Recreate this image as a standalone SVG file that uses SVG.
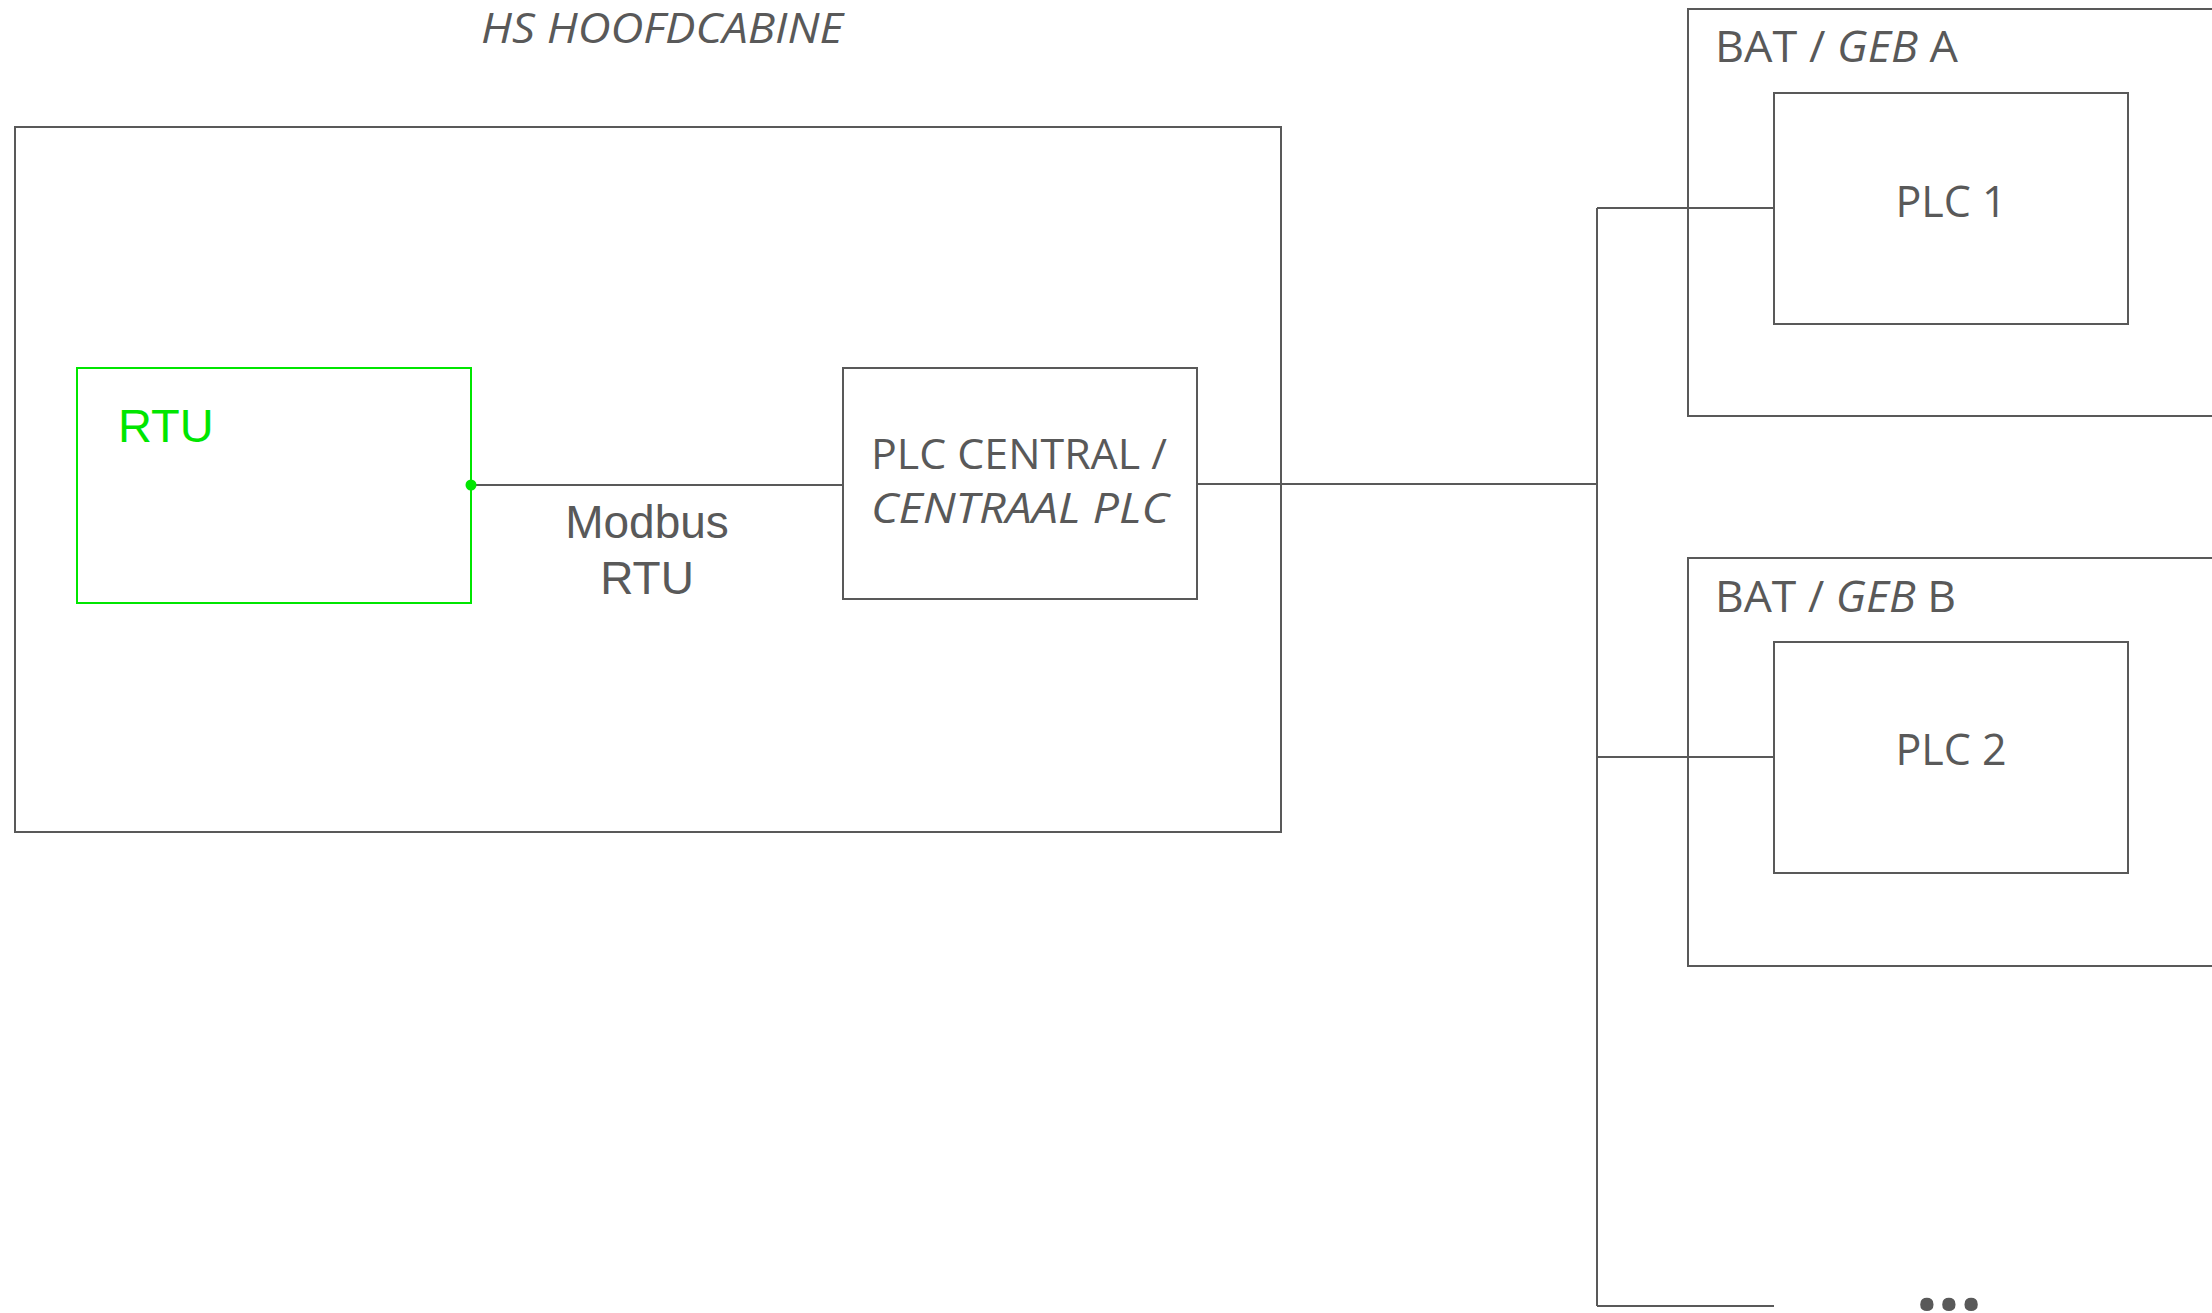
<svg xmlns="http://www.w3.org/2000/svg" width="2212" height="1313" viewBox="0 0 2212 1313">
<style>
.box{fill:none;stroke:#595959;stroke-width:2}
.line{fill:none;stroke:#595959;stroke-width:2}
.t{font-family:"Open Sans","Noto Sans",sans-serif;fill:#595959}
.a{font-family:"Liberation Sans",Arial,sans-serif;fill:#595959}
.i{font-style:italic}
</style>
<rect width="2212" height="1313" fill="#ffffff"/>
<g id="hs-hoofdcabine">
<rect class="box" x="15" y="127" width="1266" height="705"/>
<text class="t i" x="481" y="43" font-size="42" textLength="362" lengthAdjust="spacingAndGlyphs">HS HOOFDCABINE</text>
</g>
<g id="rtu">
<rect x="77" y="368" width="394" height="235" fill="none" stroke="#00e600" stroke-width="2"/>
<text x="118" y="442" font-family="Liberation Sans,Arial,sans-serif" font-size="47" fill="#00e600">RTU</text>
</g>
<g id="plc-central">
<rect class="box" x="843" y="368" width="354" height="231"/>
<text class="t" x="871" y="469" font-size="42" textLength="296" lengthAdjust="spacingAndGlyphs">PLC CENTRAL /</text>
<text class="t i" x="871" y="523" font-size="42" textLength="298" lengthAdjust="spacingAndGlyphs">CENTRAAL PLC</text>
</g>
<g id="bat-geb-a">
<rect class="box" x="1688" y="9" width="560" height="407"/>
<text class="t" x="1715" y="62" font-size="44" textLength="243" lengthAdjust="spacingAndGlyphs">BAT / <tspan class="i">GEB</tspan> A</text>
</g>
<g id="plc-1">
<rect class="box" x="1774" y="93" width="354" height="231"/>
<text class="t" x="1951" y="217" font-size="43" text-anchor="middle">PLC 1</text>
</g>
<g id="bat-geb-b">
<rect class="box" x="1688" y="558" width="560" height="408"/>
<text class="t" x="1715" y="612" font-size="44" textLength="241" lengthAdjust="spacingAndGlyphs">BAT / <tspan class="i">GEB</tspan> B</text>
</g>
<g id="plc-2">
<rect class="box" x="1774" y="642" width="354" height="231"/>
<text class="t" x="1951" y="765" font-size="43" text-anchor="middle">PLC 2</text>
</g>
<g id="more">
<text class="t" x="1949" y="1310" font-size="78" font-weight="bold" text-anchor="middle">...</text>
</g>
<g id="connectors">
<line class="line" x1="471" y1="485" x2="843" y2="485"/>
<circle cx="471" cy="485" r="5.5" fill="#00e600"/>
<text class="a" x="647" y="538" font-size="46" text-anchor="middle">Modbus</text>
<text class="a" x="647" y="594" font-size="46" text-anchor="middle">RTU</text>
<line class="line" x1="1197" y1="484" x2="1597" y2="484"/>
<line class="line" x1="1597" y1="208" x2="1597" y2="1306"/>
<line class="line" x1="1597" y1="208" x2="1774" y2="208"/>
<line class="line" x1="1597" y1="757" x2="1774" y2="757"/>
<line class="line" x1="1597" y1="1306" x2="1774" y2="1306"/>
</g>
</svg>
